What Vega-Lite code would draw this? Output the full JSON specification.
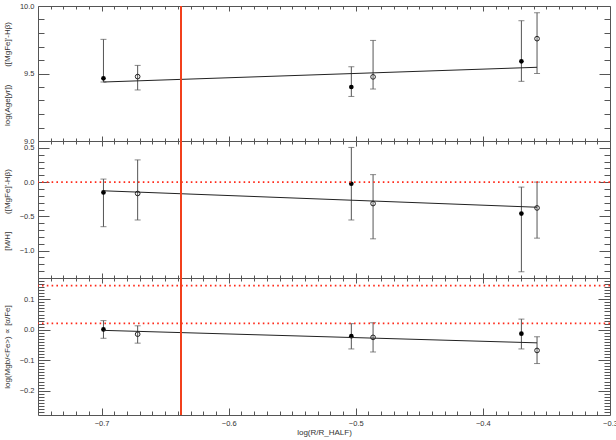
{
"$schema": "https://vega.github.io/schema/vega-lite/v6.json",
"padding": {"left": 2, "top": 1, "right": 0, "bottom": 0},
"background": "white",
"bounds": "flush",
"spacing": 0,
"datasets": {
 "points": [
  {"panel": "age", "kind": "filled", "x": -0.6985, "y": 9.464, "lo": 9.437, "hi": 9.753},
  {"panel": "age", "kind": "open", "x": -0.6716, "y": 9.477, "lo": 9.378, "hi": 9.56},
  {"panel": "age", "kind": "filled", "x": -0.5035, "y": 9.40, "lo": 9.33, "hi": 9.55},
  {"panel": "age", "kind": "open", "x": -0.4864, "y": 9.475, "lo": 9.385, "hi": 9.745},
  {"panel": "age", "kind": "filled", "x": -0.3697, "y": 9.59, "lo": 9.442, "hi": 9.891},
  {"panel": "age", "kind": "open", "x": -0.3574, "y": 9.758, "lo": 9.50, "hi": 9.95},
  {"panel": "mh", "kind": "filled", "x": -0.6985, "y": -0.151, "lo": -0.651, "hi": 0.044},
  {"panel": "mh", "kind": "open", "x": -0.6716, "y": -0.166, "lo": -0.553, "hi": 0.324},
  {"panel": "mh", "kind": "filled", "x": -0.5035, "y": -0.024, "lo": -0.553, "hi": 0.506},
  {"panel": "mh", "kind": "open", "x": -0.4864, "y": -0.313, "lo": -0.828, "hi": 0.109},
  {"panel": "mh", "kind": "filled", "x": -0.3697, "y": -0.46, "lo": -1.309, "hi": -0.073},
  {"panel": "mh", "kind": "open", "x": -0.3574, "y": -0.377, "lo": -0.818, "hi": 0.0},
  {"panel": "afe", "kind": "filled", "x": -0.6985, "y": 0.001, "lo": -0.028, "hi": 0.030},
  {"panel": "afe", "kind": "open", "x": -0.6716, "y": -0.0145, "lo": -0.044, "hi": 0.013},
  {"panel": "afe", "kind": "filled", "x": -0.5035, "y": -0.021, "lo": -0.063, "hi": 0.020},
  {"panel": "afe", "kind": "open", "x": -0.4864, "y": -0.025, "lo": -0.073, "hi": 0.023},
  {"panel": "afe", "kind": "filled", "x": -0.3697, "y": -0.013, "lo": -0.063, "hi": 0.035},
  {"panel": "afe", "kind": "open", "x": -0.3574, "y": -0.068, "lo": -0.111, "hi": -0.023}
 ],
 "lines": [
  {"panel": "age", "x": -0.6985, "y": 9.437},
  {"panel": "age", "x": -0.3574, "y": 9.546},
  {"panel": "mh", "x": -0.6985, "y": -0.127},
  {"panel": "mh", "x": -0.3574, "y": -0.367},
  {"panel": "afe", "x": -0.6985, "y": -0.002},
  {"panel": "afe", "x": -0.3574, "y": -0.043}
 ],
 "hrefs": [
  {"panel": "mh", "y": 0.0},
  {"panel": "afe", "y": 0.145},
  {"panel": "afe", "y": 0.021}
 ],
 "vref": [
  {"x": -0.6375}
 ]
},
"vconcat": [
 {
  "width": 572, "height": 135,
  "resolve": {"axis": {"x": "independent", "y": "independent"}},
  "layer": [
   {"data": {"name": "points"}, "transform": [{"filter": "datum.panel === 'age'"}],
    "mark": {"type": "rule", "color": "#555", "strokeWidth": 1},
    "encoding": {
     "x": {"field": "x", "type": "quantitative", "scale": {"domain": [-0.75, -0.3], "nice": false, "zero": false}, "axis": null},
     "y": {"field": "lo", "type": "quantitative", "scale": {"domain": [9, 10], "nice": false, "zero": false},
       "axis": {"orient": "left", "values": [9, 9.5, 10], "format": ".1f", "ticks": false, "domain": false, "labelPadding": 4, "labelFlush": false, "labelOverlap": false,
        "title": "log(Age[yr])\u00a0\u00a0\u00a0\u00a0\u00a0\u00a0\u00a0\u00a0([MgFe]'-Hβ)", "titleX": -27, "titleBaseline": "bottom"}},
     "y2": {"field": "hi"}
    }},
   {"data": {"name": "points"}, "transform": [{"filter": "datum.panel === 'age'"}],
    "mark": {"type": "tick", "orient": "horizontal", "size": 6, "thickness": 1, "color": "#555"},
    "encoding": {
     "x": {"field": "x", "type": "quantitative", "scale": {"domain": [-0.75, -0.3], "nice": false, "zero": false},
       "axis": {"orient": "bottom", "values": [-0.7, -0.6, -0.5, -0.4], "labels": false, "domain": false, "tickSize": -5, "title": null}},
     "y": {"field": "lo", "type": "quantitative", "scale": {"domain": [9, 10], "nice": false, "zero": false},
       "axis": {"orient": "left", "values": [9, 9.5, 10], "labels": false, "domain": false, "tickSize": -11, "title": null}}
    }},
   {"data": {"name": "points"}, "transform": [{"filter": "datum.panel === 'age'"}],
    "mark": {"type": "tick", "orient": "horizontal", "size": 6, "thickness": 1, "color": "#555"},
    "encoding": {
     "x": {"field": "x", "type": "quantitative", "scale": {"domain": [-0.75, -0.3], "nice": false, "zero": false},
       "axis": {"orient": "bottom", "values": [-0.74,-0.73,-0.72,-0.71,-0.69,-0.68,-0.67,-0.66,-0.65,-0.64,-0.63,-0.62,-0.61,-0.59,-0.58,-0.57,-0.56,-0.55,-0.54,-0.53,-0.52,-0.51,-0.49,-0.48,-0.47,-0.46,-0.45,-0.44,-0.43,-0.42,-0.41,-0.39,-0.38,-0.37,-0.36,-0.35,-0.34,-0.33,-0.32,-0.31], "labels": false, "domain": false, "tickSize": -3, "title": null}},
     "y": {"field": "hi", "type": "quantitative", "scale": {"domain": [9, 10], "nice": false, "zero": false},
       "axis": {"orient": "left", "values": [9.1,9.2,9.3,9.4,9.6,9.7,9.8,9.9], "labels": false, "domain": false, "tickSize": -6, "title": null}}
    }},
   {"data": {"name": "points"}, "transform": [{"filter": "datum.panel === 'age' && datum.kind === 'filled'"}],
    "mark": {"type": "circle", "size": 22, "color": "#000", "opacity": 1},
    "encoding": {
     "x": {"field": "x", "type": "quantitative", "scale": {"domain": [-0.75, -0.3], "nice": false, "zero": false},
       "axis": {"orient": "top", "values": [-0.7, -0.6, -0.5, -0.4], "labels": false, "domain": false, "tickSize": -5, "title": null}},
     "y": {"field": "y", "type": "quantitative", "scale": {"domain": [9, 10], "nice": false, "zero": false},
       "axis": {"orient": "right", "values": [9, 9.5, 10], "labels": false, "domain": false, "tickSize": -11, "title": null}}
    }},
   {"data": {"name": "points"}, "transform": [{"filter": "datum.panel === 'age' && datum.kind === 'open'"}],
    "mark": {"type": "point", "shape": "circle", "filled": false, "size": 22, "color": "#222", "strokeWidth": 1, "opacity": 1},
    "encoding": {
     "x": {"field": "x", "type": "quantitative", "scale": {"domain": [-0.75, -0.3], "nice": false, "zero": false},
       "axis": {"orient": "top", "values": [-0.74,-0.73,-0.72,-0.71,-0.69,-0.68,-0.67,-0.66,-0.65,-0.64,-0.63,-0.62,-0.61,-0.59,-0.58,-0.57,-0.56,-0.55,-0.54,-0.53,-0.52,-0.51,-0.49,-0.48,-0.47,-0.46,-0.45,-0.44,-0.43,-0.42,-0.41,-0.39,-0.38,-0.37,-0.36,-0.35,-0.34,-0.33,-0.32,-0.31], "labels": false, "domain": false, "tickSize": -3, "title": null}},
     "y": {"field": "y", "type": "quantitative", "scale": {"domain": [9, 10], "nice": false, "zero": false},
       "axis": {"orient": "right", "values": [9.1,9.2,9.3,9.4,9.6,9.7,9.8,9.9], "labels": false, "domain": false, "tickSize": -6, "title": null}}
    }},
   {"data": {"name": "lines"}, "transform": [{"filter": "datum.panel === 'age'"}],
    "mark": {"type": "line", "color": "#222", "strokeWidth": 1},
    "encoding": {
     "x": {"field": "x", "type": "quantitative", "scale": {"domain": [-0.75, -0.3], "nice": false, "zero": false}, "axis": null},
     "y": {"field": "y", "type": "quantitative", "scale": {"domain": [9, 10], "nice": false, "zero": false}, "axis": null}
    }},
   {"data": {"name": "vref"},
    "mark": {"type": "rule", "color": "#f2401c", "strokeWidth": 2},
    "encoding": {"x": {"field": "x", "type": "quantitative", "scale": {"domain": [-0.75, -0.3], "nice": false, "zero": false}, "axis": null}}}
  ]
 },
 {
  "width": 572, "height": 137,
  "resolve": {"axis": {"x": "independent", "y": "independent"}},
  "layer": [
   {"data": {"name": "points"}, "transform": [{"filter": "datum.panel === 'mh'"}],
    "mark": {"type": "rule", "color": "#555", "strokeWidth": 1},
    "encoding": {
     "x": {"field": "x", "type": "quantitative", "scale": {"domain": [-0.75, -0.3], "nice": false, "zero": false}, "axis": null},
     "y": {"field": "lo", "type": "quantitative", "scale": {"domain": [-1.4, 0.6], "nice": false, "zero": false},
       "axis": {"orient": "left", "values": [-1, -0.5, 0, 0.5], "format": ".1f", "ticks": false, "domain": false, "labelPadding": 4, "labelFlush": false, "labelOverlap": false,
        "title": "[M/H]\u00a0\u00a0\u00a0\u00a0\u00a0\u00a0\u00a0\u00a0([MgFe]'-Hβ)", "titleX": -27, "titleBaseline": "bottom"}},
     "y2": {"field": "hi"}
    }},
   {"data": {"name": "points"}, "transform": [{"filter": "datum.panel === 'mh'"}],
    "mark": {"type": "tick", "orient": "horizontal", "size": 6, "thickness": 1, "color": "#555"},
    "encoding": {
     "x": {"field": "x", "type": "quantitative", "scale": {"domain": [-0.75, -0.3], "nice": false, "zero": false},
       "axis": {"orient": "bottom", "values": [-0.7, -0.6, -0.5, -0.4], "labels": false, "domain": false, "tickSize": -5, "title": null}},
     "y": {"field": "lo", "type": "quantitative", "scale": {"domain": [-1.4, 0.6], "nice": false, "zero": false},
       "axis": {"orient": "left", "values": [-1, -0.5, 0, 0.5], "labels": false, "domain": false, "tickSize": -11, "title": null}}
    }},
   {"data": {"name": "points"}, "transform": [{"filter": "datum.panel === 'mh'"}],
    "mark": {"type": "tick", "orient": "horizontal", "size": 6, "thickness": 1, "color": "#555"},
    "encoding": {
     "x": {"field": "x", "type": "quantitative", "scale": {"domain": [-0.75, -0.3], "nice": false, "zero": false},
       "axis": {"orient": "bottom", "values": [-0.74,-0.73,-0.72,-0.71,-0.69,-0.68,-0.67,-0.66,-0.65,-0.64,-0.63,-0.62,-0.61,-0.59,-0.58,-0.57,-0.56,-0.55,-0.54,-0.53,-0.52,-0.51,-0.49,-0.48,-0.47,-0.46,-0.45,-0.44,-0.43,-0.42,-0.41,-0.39,-0.38,-0.37,-0.36,-0.35,-0.34,-0.33,-0.32,-0.31], "labels": false, "domain": false, "tickSize": -3, "title": null}},
     "y": {"field": "hi", "type": "quantitative", "scale": {"domain": [-1.4, 0.6], "nice": false, "zero": false},
       "axis": {"orient": "left", "values": [-1.3,-1.2,-1.1,-0.9,-0.8,-0.7,-0.6,-0.4,-0.3,-0.2,-0.1,0.1,0.2,0.3,0.4], "labels": false, "domain": false, "tickSize": -6, "title": null}}
    }},
   {"data": {"name": "points"}, "transform": [{"filter": "datum.panel === 'mh' && datum.kind === 'filled'"}],
    "mark": {"type": "circle", "size": 22, "color": "#000", "opacity": 1},
    "encoding": {
     "x": {"field": "x", "type": "quantitative", "scale": {"domain": [-0.75, -0.3], "nice": false, "zero": false},
       "axis": {"orient": "top", "values": [-0.7, -0.6, -0.5, -0.4], "labels": false, "domain": false, "tickSize": -5, "title": null}},
     "y": {"field": "y", "type": "quantitative", "scale": {"domain": [-1.4, 0.6], "nice": false, "zero": false},
       "axis": {"orient": "right", "values": [-1, -0.5, 0, 0.5], "labels": false, "domain": false, "tickSize": -11, "title": null}}
    }},
   {"data": {"name": "points"}, "transform": [{"filter": "datum.panel === 'mh' && datum.kind === 'open'"}],
    "mark": {"type": "point", "shape": "circle", "filled": false, "size": 22, "color": "#222", "strokeWidth": 1, "opacity": 1},
    "encoding": {
     "x": {"field": "x", "type": "quantitative", "scale": {"domain": [-0.75, -0.3], "nice": false, "zero": false},
       "axis": {"orient": "top", "values": [-0.74,-0.73,-0.72,-0.71,-0.69,-0.68,-0.67,-0.66,-0.65,-0.64,-0.63,-0.62,-0.61,-0.59,-0.58,-0.57,-0.56,-0.55,-0.54,-0.53,-0.52,-0.51,-0.49,-0.48,-0.47,-0.46,-0.45,-0.44,-0.43,-0.42,-0.41,-0.39,-0.38,-0.37,-0.36,-0.35,-0.34,-0.33,-0.32,-0.31], "labels": false, "domain": false, "tickSize": -3, "title": null}},
     "y": {"field": "y", "type": "quantitative", "scale": {"domain": [-1.4, 0.6], "nice": false, "zero": false},
       "axis": {"orient": "right", "values": [-1.3,-1.2,-1.1,-0.9,-0.8,-0.7,-0.6,-0.4,-0.3,-0.2,-0.1,0.1,0.2,0.3,0.4], "labels": false, "domain": false, "tickSize": -6, "title": null}}
    }},
   {"data": {"name": "lines"}, "transform": [{"filter": "datum.panel === 'mh'"}],
    "mark": {"type": "line", "color": "#222", "strokeWidth": 1},
    "encoding": {
     "x": {"field": "x", "type": "quantitative", "scale": {"domain": [-0.75, -0.3], "nice": false, "zero": false}, "axis": null},
     "y": {"field": "y", "type": "quantitative", "scale": {"domain": [-1.4, 0.6], "nice": false, "zero": false}, "axis": null}
    }},
   {"data": {"name": "hrefs"}, "transform": [{"filter": "datum.panel === 'mh'"}],
    "mark": {"type": "rule", "color": "#ff2a1a", "strokeWidth": 1.6, "strokeDash": [1.6, 3.2]},
    "encoding": {"y": {"field": "y", "type": "quantitative", "scale": {"domain": [-1.4, 0.6], "nice": false, "zero": false}, "axis": null}}},
   {"data": {"name": "vref"},
    "mark": {"type": "rule", "color": "#f2401c", "strokeWidth": 2},
    "encoding": {"x": {"field": "x", "type": "quantitative", "scale": {"domain": [-0.75, -0.3], "nice": false, "zero": false}, "axis": null}}}
  ]
 },
 {
  "width": 572, "height": 137,
  "resolve": {"axis": {"x": "independent", "y": "independent"}},
  "layer": [
   {"data": {"name": "points"}, "transform": [{"filter": "datum.panel === 'afe'"}],
    "mark": {"type": "rule", "color": "#555", "strokeWidth": 1},
    "encoding": {
     "x": {"field": "x", "type": "quantitative", "scale": {"domain": [-0.75, -0.3], "nice": false, "zero": false},
       "axis": {"orient": "bottom", "values": [-0.7, -0.6, -0.5, -0.4, -0.3], "format": ".1f", "ticks": false, "domain": false, "labelPadding": 4, "labelFlush": false, "labelOverlap": false, "title": "log(R/R_HALF)", "titlePadding": 2}},
     "y": {"field": "lo", "type": "quantitative", "scale": {"domain": [-0.28, 0.17], "nice": false, "zero": false},
       "axis": {"orient": "left", "values": [-0.2, -0.1, 0, 0.1], "format": ".1f", "ticks": false, "domain": false, "labelPadding": 4, "labelFlush": false, "labelOverlap": false,
        "title": "log(Mgb/<Fe>) ∝ [α/Fe]", "titleX": -27, "titleBaseline": "bottom"}},
     "y2": {"field": "hi"}
    }},
   {"data": {"name": "points"}, "transform": [{"filter": "datum.panel === 'afe'"}],
    "mark": {"type": "tick", "orient": "horizontal", "size": 6, "thickness": 1, "color": "#555"},
    "encoding": {
     "x": {"field": "x", "type": "quantitative", "scale": {"domain": [-0.75, -0.3], "nice": false, "zero": false},
       "axis": {"orient": "bottom", "values": [-0.7, -0.6, -0.5, -0.4], "labels": false, "domain": false, "tickSize": -7, "title": null}},
     "y": {"field": "lo", "type": "quantitative", "scale": {"domain": [-0.28, 0.17], "nice": false, "zero": false},
       "axis": {"orient": "left", "values": [-0.2, -0.1, 0, 0.1], "labels": false, "domain": false, "tickSize": -12, "title": null}}
    }},
   {"data": {"name": "points"}, "transform": [{"filter": "datum.panel === 'afe'"}],
    "mark": {"type": "tick", "orient": "horizontal", "size": 6, "thickness": 1, "color": "#555"},
    "encoding": {
     "x": {"field": "x", "type": "quantitative", "scale": {"domain": [-0.75, -0.3], "nice": false, "zero": false},
       "axis": {"orient": "bottom", "values": [-0.74,-0.73,-0.72,-0.71,-0.69,-0.68,-0.67,-0.66,-0.65,-0.64,-0.63,-0.62,-0.61,-0.59,-0.58,-0.57,-0.56,-0.55,-0.54,-0.53,-0.52,-0.51,-0.49,-0.48,-0.47,-0.46,-0.45,-0.44,-0.43,-0.42,-0.41,-0.39,-0.38,-0.37,-0.36,-0.35,-0.34,-0.33,-0.32,-0.31], "labels": false, "domain": false, "tickSize": -4, "title": null}},
     "y": {"field": "hi", "type": "quantitative", "scale": {"domain": [-0.28, 0.17], "nice": false, "zero": false},
       "axis": {"orient": "left", "values": [-0.27,-0.26,-0.25,-0.24,-0.23,-0.22,-0.21,-0.19,-0.18,-0.17,-0.16,-0.15,-0.14,-0.13,-0.12,-0.11,-0.09,-0.08,-0.07,-0.06,-0.05,-0.04,-0.03,-0.02,-0.01,0.01,0.02,0.03,0.04,0.05,0.06,0.07,0.08,0.09,0.11,0.12,0.13,0.14,0.15,0.16], "labels": false, "domain": false, "tickSize": -6, "title": null}}
    }},
   {"data": {"name": "points"}, "transform": [{"filter": "datum.panel === 'afe' && datum.kind === 'filled'"}],
    "mark": {"type": "circle", "size": 22, "color": "#000", "opacity": 1},
    "encoding": {
     "x": {"field": "x", "type": "quantitative", "scale": {"domain": [-0.75, -0.3], "nice": false, "zero": false},
       "axis": {"orient": "top", "values": [-0.7, -0.6, -0.5, -0.4], "labels": false, "domain": false, "tickSize": -5, "title": null}},
     "y": {"field": "y", "type": "quantitative", "scale": {"domain": [-0.28, 0.17], "nice": false, "zero": false},
       "axis": {"orient": "right", "values": [-0.2, -0.1, 0, 0.1], "labels": false, "domain": false, "tickSize": -12, "title": null}}
    }},
   {"data": {"name": "points"}, "transform": [{"filter": "datum.panel === 'afe' && datum.kind === 'open'"}],
    "mark": {"type": "point", "shape": "circle", "filled": false, "size": 22, "color": "#222", "strokeWidth": 1, "opacity": 1},
    "encoding": {
     "x": {"field": "x", "type": "quantitative", "scale": {"domain": [-0.75, -0.3], "nice": false, "zero": false},
       "axis": {"orient": "top", "values": [-0.74,-0.73,-0.72,-0.71,-0.69,-0.68,-0.67,-0.66,-0.65,-0.64,-0.63,-0.62,-0.61,-0.59,-0.58,-0.57,-0.56,-0.55,-0.54,-0.53,-0.52,-0.51,-0.49,-0.48,-0.47,-0.46,-0.45,-0.44,-0.43,-0.42,-0.41,-0.39,-0.38,-0.37,-0.36,-0.35,-0.34,-0.33,-0.32,-0.31], "labels": false, "domain": false, "tickSize": -3, "title": null}},
     "y": {"field": "y", "type": "quantitative", "scale": {"domain": [-0.28, 0.17], "nice": false, "zero": false},
       "axis": {"orient": "right", "values": [-0.27,-0.26,-0.25,-0.24,-0.23,-0.22,-0.21,-0.19,-0.18,-0.17,-0.16,-0.15,-0.14,-0.13,-0.12,-0.11,-0.09,-0.08,-0.07,-0.06,-0.05,-0.04,-0.03,-0.02,-0.01,0.01,0.02,0.03,0.04,0.05,0.06,0.07,0.08,0.09,0.11,0.12,0.13,0.14,0.15,0.16], "labels": false, "domain": false, "tickSize": -6, "title": null}}
    }},
   {"data": {"name": "lines"}, "transform": [{"filter": "datum.panel === 'afe'"}],
    "mark": {"type": "line", "color": "#222", "strokeWidth": 1},
    "encoding": {
     "x": {"field": "x", "type": "quantitative", "scale": {"domain": [-0.75, -0.3], "nice": false, "zero": false}, "axis": null},
     "y": {"field": "y", "type": "quantitative", "scale": {"domain": [-0.28, 0.17], "nice": false, "zero": false}, "axis": null}
    }},
   {"data": {"name": "hrefs"}, "transform": [{"filter": "datum.panel === 'afe'"}],
    "mark": {"type": "rule", "color": "#ff2a1a", "strokeWidth": 1.6, "strokeDash": [1.6, 3.2]},
    "encoding": {"y": {"field": "y", "type": "quantitative", "scale": {"domain": [-0.28, 0.17], "nice": false, "zero": false}, "axis": null}}},
   {"data": {"name": "vref"},
    "mark": {"type": "rule", "color": "#f2401c", "strokeWidth": 2},
    "encoding": {"x": {"field": "x", "type": "quantitative", "scale": {"domain": [-0.75, -0.3], "nice": false, "zero": false}, "axis": null}}}
  ]
 }
],
"config": {
 "view": {"stroke": "#555", "strokeWidth": 1},
 "axis": {"grid": false, "tickColor": "#555", "tickWidth": 1, "labelColor": "#333", "labelFont": "Liberation Sans", "labelFontSize": 7.5,
  "titleFont": "Liberation Sans", "titleFontSize": 8, "titleFontWeight": "normal", "titleColor": "#333"}
}
}
